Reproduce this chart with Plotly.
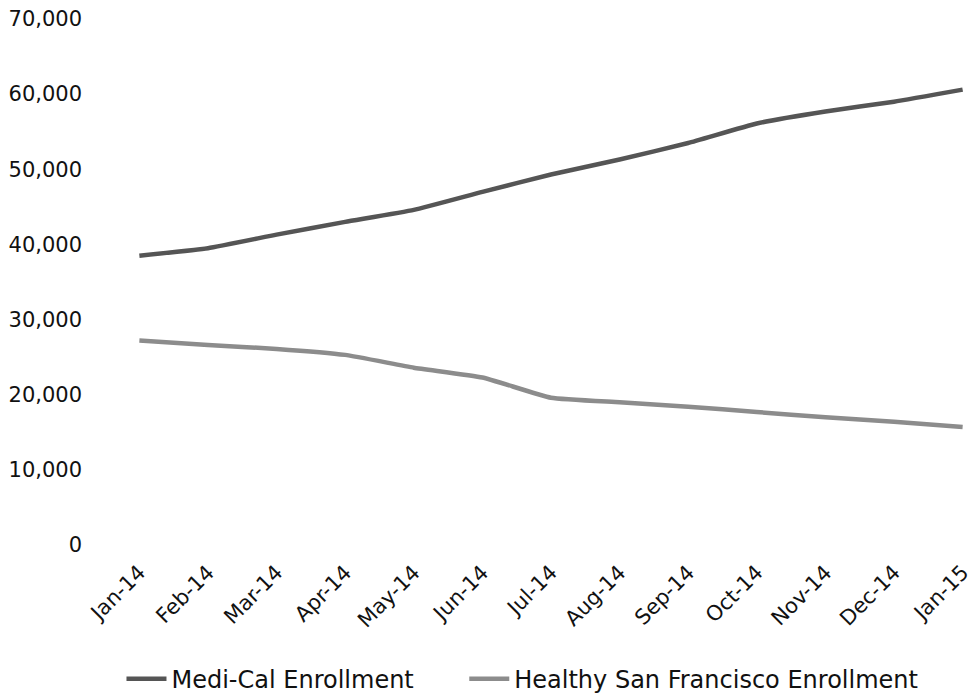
import plotly.graph_objects as go

months = ["Jan-14", "Feb-14", "Mar-14", "Apr-14", "May-14", "Jun-14", "Jul-14",
          "Aug-14", "Sep-14", "Oct-14", "Nov-14", "Dec-14", "Jan-15"]

medi_cal = [38500, 39500, 41300, 43000, 44600, 47000, 49300,
            51300, 53500, 56100, 57700, 59000, 60600]

healthy_sf = [27200, 26600, 26100, 25300, 23600, 22300, 19600,
              19000, 18400, 17700, 17000, 16400, 15700]

y_ticks = [0, 10000, 20000, 30000, 40000, 50000, 60000, 70000]

font_family = "'DejaVu Sans', Verdana, sans-serif"

fig = go.Figure()
fig.add_trace(go.Scatter(
    x=list(range(len(months))), y=medi_cal, mode="lines",
    name="Medi-Cal Enrollment", legend="legend",
    line=dict(color="#555555", width=4.5, shape="spline", smoothing=0.4),
))
fig.add_trace(go.Scatter(
    x=list(range(len(months))), y=healthy_sf, mode="lines",
    name="Healthy San Francisco Enrollment", legend="legend2",
    line=dict(color="#8c8c8c", width=4.5, shape="spline", smoothing=0.4),
))

legend_style = dict(orientation="h", yanchor="middle", y=-0.255, xanchor="left",
                    font=dict(size=24), itemwidth=40, bgcolor="rgba(0,0,0,0)")

fig.update_layout(
    width=974, height=693,
    margin=dict(l=138, r=10, t=19, b=148, autoexpand=False),
    paper_bgcolor="white", plot_bgcolor="white",
    font=dict(family=font_family, size=21, color="#111111"),
    showlegend=True,
    legend=dict(legend_style, x=-0.02),
    legend2=dict(legend_style, x=0.395),
)
fig.update_xaxes(
    range=[-0.02, 12.02], tickmode="array",
    tickvals=list(range(len(months))), ticktext=months,
    tickangle=-45, showgrid=False, zeroline=False, showline=False,
    ticks="", tickfont=dict(size=21), ticklabelstandoff=10,
    ticklabeloverflow="allow", automargin=False,
)
fig.update_yaxes(
    range=[0, 70000], tickmode="array", tickvals=y_ticks,
    ticktext=[f"{v:,}" for v in y_ticks],
    showgrid=False, zeroline=False, showline=False, ticks="",
    ticklabelstandoff=55, tickfont=dict(size=21), automargin=False,
)

fig.write_html("out.html")
